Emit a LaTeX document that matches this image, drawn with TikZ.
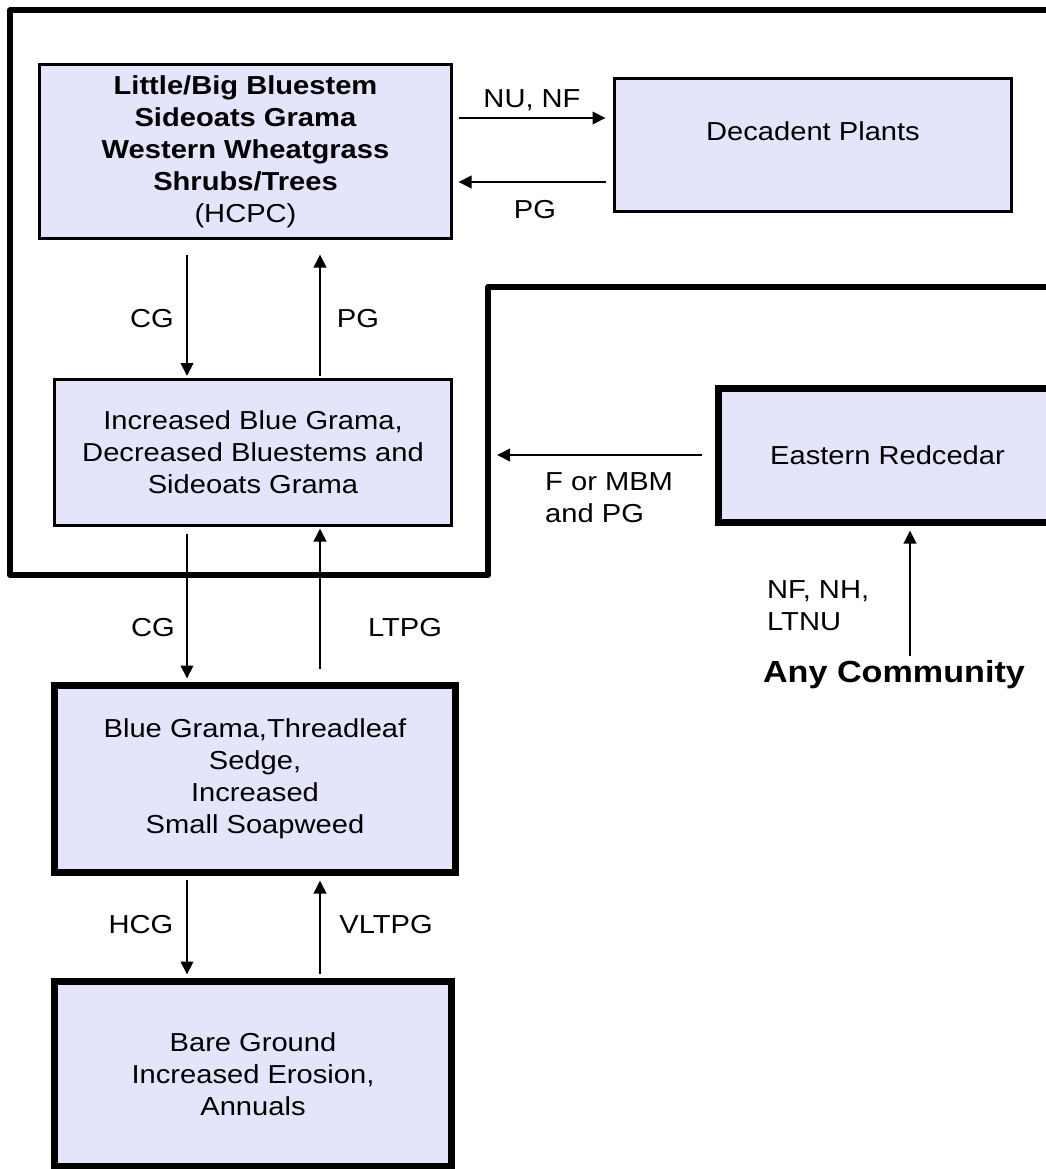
\documentclass[tikz,border=0pt]{standalone}
\usepackage{fontspec}
\setmainfont{Liberation Sans}[FakeStretch=1.12]
\usetikzlibrary{arrows.meta,calc}
\definecolor{boxfill}{RGB}{228,228,250}
\begin{document}
\begin{tikzpicture}[x=1pt,y=-1pt,
  every node/.style={font=\fontsize{26}{32}\selectfont},
  thinbox/.style={draw=black, fill=boxfill, line width=3pt, rectangle, inner sep=0pt, align=center},
  thickbox/.style={thinbox, line width=7pt},
  arr/.style={line width=2pt, -{Triangle[length=13pt,width=12.5pt]}},
  lbl/.style={inner sep=0pt},
  frame/.style={line width=6pt, line join=round, line cap=round}
]
\useasboundingbox (0,0) rectangle (1045,1169);
\fill[white] (0,0) rectangle (1045,1169);
\draw[frame] (1060,10.5) -- (10,10.5) -- (10,575) -- (488,575) -- (488,287) -- (1060,287);

\node[thinbox, minimum width=412pt, minimum height=174pt] (hcpc) at (245.5,151.5)
  {\textbf{Little/Big Bluestem}\\\textbf{Sideoats Grama}\\\textbf{Western Wheatgrass}\\\textbf{Shrubs/Trees}\\(HCPC)};
\node[thinbox, minimum width=397pt, minimum height=133pt] (dec) at (813,145) {};
\node[lbl] (dectext) at (813,131) {Decadent Plants};
\node[thinbox, minimum width=397pt, minimum height=146pt] (incr) at (253,452.5)
  {Increased Blue Grama,\\Decreased Bluestems and\\Sideoats Grama};
\node[thickbox, minimum width=338pt, minimum height=134pt] (east) at (887.5,455.5) {Eastern Redcedar};
\node[thickbox, minimum width=401pt, minimum height=187pt] (blue) at (255,779)
  {Blue Grama,Threadleaf\\Sedge,\\Increased\\Small Soapweed};
\node[thickbox, minimum width=397pt, minimum height=185pt] (bare) at (253,1074)
  {Bare Ground\\Increased Erosion,\\Annuals};

\coordinate (xa) at (187,0);
\coordinate (xb) at (320,0);
\coordinate (xc) at (910,0);
\coordinate (ya) at (0,118);
\coordinate (yb) at (0,182);
\coordinate (yc) at (0,455);
\coordinate (fend) at (497,455);

\draw[arr, shorten <=14.5pt, shorten >=2pt] (hcpc.south -| xa) -- (incr.north -| xa);
\draw[arr, shorten <=2pt, shorten >=14.5pt] (incr.north -| xb) -- (hcpc.south -| xb);
\draw[arr, shorten <=5.5pt, shorten >=7.5pt] (hcpc.east |- ya) -- (dec.west |- ya);
\draw[arr, shorten <=7.5pt, shorten >=5.5pt] (dec.west |- yb) -- (hcpc.east |- yb);
\draw[arr, shorten <=6.5pt, shorten >=3.5pt] (incr.south -| xa) -- (blue.north -| xa);
\draw[arr, shorten <=13.5pt, shorten >=1.5pt] (blue.north -| xb) -- (incr.south -| xb);
\draw[arr, shorten <=3.5pt, shorten >=3.5pt] (blue.south -| xa) -- (bare.north -| xa);
\draw[arr, shorten <=4.5pt, shorten >=4.5pt] (bare.north -| xb) -- (blue.south -| xb);
\draw[arr, shorten <=13.5pt] (east.west |- yc) -- (fend);

\node[font=\bfseries\fontsize{30.5}{35}\selectfont, inner sep=4.5pt] (any) at (894,675) {Any Community};
\draw[arr, shorten >=4.5pt] (any.north -| xc) -- (east.south -| xc);

\node[lbl] (l1) at (532,100) {NU, NF};
\node[lbl] (l2) at (535,210) {PG};
\node[lbl] (l3) at (152,319) {CG};
\node[lbl] (l4) at (358,319) {PG};
\node[lbl] (l5) at (153,628) {CG};
\node[lbl] (l6) at (405,628) {LTPG};
\node[lbl] (l7) at (141,925) {HCG};
\node[lbl] (l8) at (386,925) {VLTPG};
\node[lbl, align=left, anchor=west] (l9) at (545,497.5) {F or MBM\\and PG};
\node[lbl, align=left, anchor=west] (l10) at (767,606) {NF, NH,\\LTNU};
\end{tikzpicture}
\end{document}
